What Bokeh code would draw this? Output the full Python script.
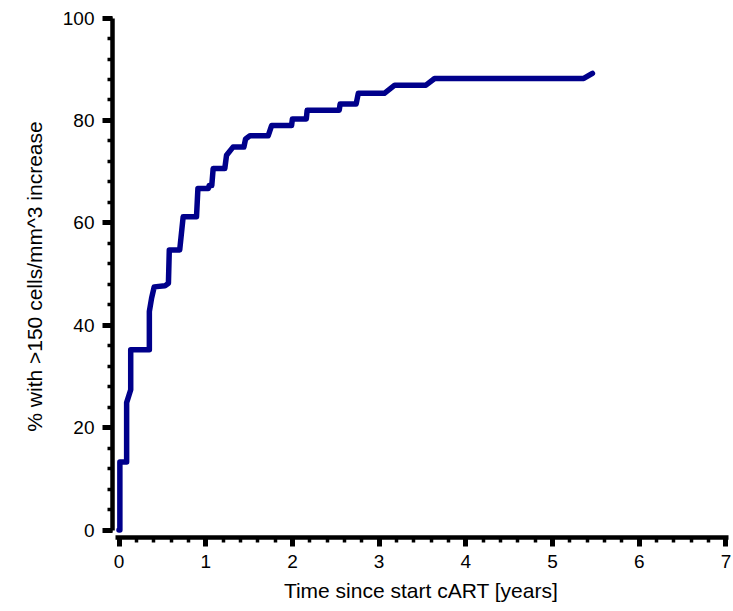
from bokeh.plotting import figure
from bokeh.models import Range1d, SingleIntervalTicker
from bokeh.embed import file_html
from bokeh.resources import INLINE

# Cumulative proportion reaching a >150 cells/mm^3 CD4 increase after cART start
years = [0.0, 0.01, 0.01, 0.088, 0.088, 0.135, 0.135, 0.35, 0.35, 0.376, 0.406,
         0.53, 0.57, 0.58, 0.70, 0.74, 0.894, 0.91, 1.03, 1.04, 1.07, 1.086,
         1.22, 1.24, 1.315, 1.44, 1.46, 1.51, 1.72, 1.76, 1.99, 2.0, 2.16, 2.17,
         2.54, 2.55, 2.735, 2.76, 3.06, 3.18, 3.54, 3.64, 5.36, 5.46]
pct = [0.0, 0.0, 13.3, 13.3, 24.9, 27.4, 35.2, 35.2, 42.7, 45.3, 47.5,
       47.7, 48.2, 54.7, 54.7, 61.2, 61.2, 66.7, 66.7, 67.3, 67.3, 70.6,
       70.6, 73.2, 74.8, 74.8, 76.4, 77.0, 77.0, 79.0, 79.0, 80.3, 80.3, 82.0,
       82.0, 83.2, 83.2, 85.3, 85.3, 86.9, 86.9, 88.2, 88.2, 89.2]

x_label = "Time since start cART [years]"
y_label = "% with >150 cells/mm^3 increase"

p = figure(width=733, height=611, output_backend="svg", toolbar_location=None,
           x_range=Range1d(-0.075, 7.041), y_range=Range1d(-1.45, 100.5),
           min_border_left=112, min_border_right=4, min_border_top=15,
           min_border_bottom=74)
p.outline_line_color = None
p.grid.visible = False
p.background_fill_color = "white"
p.border_fill_color = "white"

p.line(years, pct, line_color="#00008B", line_width=5.5,
       line_join="round", line_cap="round")

font = "Liberation Sans"

p.xaxis.ticker = SingleIntervalTicker(interval=1, num_minor_ticks=5)
p.yaxis.ticker = SingleIntervalTicker(interval=20, num_minor_ticks=5)
p.xaxis.bounds = (-0.04, 7.03)
p.yaxis.bounds = (0, 100)
p.xaxis.axis_label = x_label
p.yaxis.axis_label = y_label

for ax in (p.xaxis, p.yaxis):
    ax.axis_line_width = 4.5
    ax.axis_line_color = "black"
    ax.major_tick_line_width = 5
    ax.minor_tick_line_width = 3.5
    ax.major_tick_line_color = "black"
    ax.minor_tick_line_color = "black"
    ax.major_tick_in = 0
    ax.minor_tick_in = 0
    ax.major_label_text_font = font
    ax.major_label_text_font_size = "19px"
    ax.major_label_text_color = "black"
    ax.axis_label_text_font = font
    ax.axis_label_text_font_size = "21px"
    ax.axis_label_text_font_style = "normal"
    ax.axis_label_text_color = "black"

p.xaxis.major_tick_out = 9
p.xaxis.minor_tick_out = 5
p.xaxis.major_label_standoff = 8
p.xaxis.axis_label_standoff = 8

p.yaxis.major_tick_out = 10
p.yaxis.minor_tick_out = 5
p.yaxis.major_label_standoff = 8
p.yaxis.axis_label_standoff = 14

open("out.html", "w").write(file_html(p, INLINE))
